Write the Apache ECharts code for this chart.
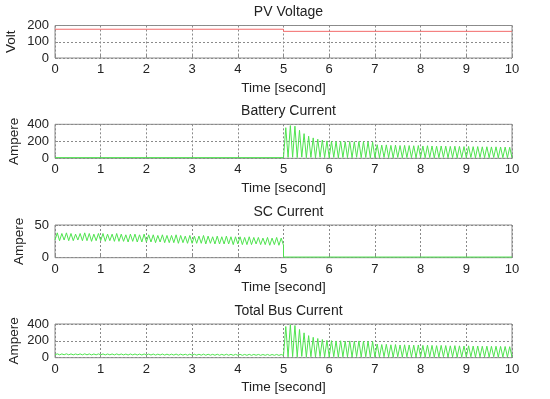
<!DOCTYPE html>
<html>
<head>
<meta charset="utf-8">
<script src="https://cdn.jsdelivr.net/npm/echarts@6/dist/echarts.min.js"></script>
<style>html,body{margin:0;padding:0;background:#fff}#c{width:550px;height:399px}</style>
</head>
<body>
<div id="c"></div>
<script>
// ---- Data ----
var titles = ['PV Voltage', 'Battery Current', 'SC Current', 'Total Bus Current'];
var yNames = ['Volt', 'Ampere', 'Ampere', 'Ampere'];
var xTicks = [0, 1, 2, 3, 4, 5, 6, 7, 8, 9, 10];
var yMax = [200, 400, 50, 400];
var yStep = [100, 200, 50, 200];

// PV voltage: step change at t = 5 s
var pvTime = [0, 5, 5, 10];
var pvVolt = [177, 177, 164, 164];

// Battery current: flat before 5 s, oscillating (10 Hz cycles) after 5 s
var batBefore = [8, 8];              // at t = 0 and t = 5
var batPeaks = [
  360, 385, 378, 330, 290, 260, 240, 225, 215, 205,
  200, 198, 200, 195, 198, 195, 198, 196, 195, 190,
  160, 155, 158, 152, 155, 150, 152, 150, 148, 150,
  145, 148, 145, 142, 145, 143, 140, 142, 140, 138,
  140, 137, 138, 135, 136, 134, 135, 133, 132, 130
];
var batTroughs = [
  6, 10, 12, 9, 14, 8, 11, 7, 12, 9,
  8, 11, 6, 10, 9, 7, 12, 8, 10, 6,
  9, 7, 11, 8, 6, 10, 7, 9, 8, 6,
  10, 7, 9, 6, 8, 11, 7, 9, 6, 8,
  7, 10, 6, 9, 8, 7, 10, 6, 8, 7
];

// SC current: oscillating before 5 s, ~0 after
var scPeaks = [
  38, 37, 38, 37, 36, 37, 38, 37, 36, 37,
  37, 36, 36, 37, 36, 35, 36, 36, 35, 36,
  35, 35, 34, 35, 34, 34, 35, 34, 33, 34,
  33, 33, 34, 33, 32, 33, 32, 33, 32, 32,
  32, 31, 32, 31, 31, 30, 31, 30, 31, 30
];
var scTroughs = [
  27, 26, 27, 26, 26, 27, 26, 26, 25, 26,
  26, 25, 26, 25, 25, 25, 24, 25, 24, 24,
  24, 24, 23, 24, 23, 23, 23, 22, 23, 22,
  22, 22, 22, 21, 22, 21, 21, 21, 21, 20,
  21, 20, 20, 20, 21, 20, 20, 19, 20, 19
];
var scAfter = [19, 1, 1];            // at t = 5 (end), 5 (drop), 10

// Total bus current
var busPeaks = [
  46, 45, 46, 45, 44, 45, 46, 45, 44, 45,
  45, 44, 44, 45, 44, 43, 44, 44, 43, 44,
  43, 43, 42, 43, 42, 42, 43, 42, 41, 42,
  41, 41, 42, 41, 40, 41, 40, 41, 40, 40,
  40, 39, 40, 39, 39, 38, 39, 38, 39, 38,
  370, 392, 382, 335, 295, 262, 242, 228, 216, 206,
  202, 199, 201, 196, 199, 196, 199, 197, 195, 192,
  162, 156, 159, 153, 156, 151, 153, 151, 149, 151,
  146, 149, 146, 143, 146, 144, 141, 143, 141, 139,
  141, 138, 139, 136, 137, 135, 136, 134, 133, 131
];
var busTroughs = [
  35, 34, 35, 34, 34, 35, 34, 34, 33, 34,
  34, 33, 34, 33, 33, 33, 32, 33, 32, 32,
  32, 32, 31, 32, 31, 31, 31, 30, 31, 30,
  30, 30, 30, 29, 30, 29, 29, 29, 29, 28,
  29, 28, 28, 28, 29, 28, 28, 27, 28, 27,
  27, 11, 13, 10, 15, 9, 12, 8, 13, 10,
  9, 12, 7, 11, 10, 8, 13, 9, 11, 7,
  10, 8, 12, 9, 7, 11, 8, 10, 9, 7,
  11, 8, 10, 7, 9, 12, 8, 10, 7, 9,
  8, 11, 7, 10, 9, 8, 11, 7, 9, 8
];

// ---- Build series points: each 0.1 s cycle = trough then peak ----
function cycles(t0, troughs, peaks) {
  var out = [];
  for (var k = 0; k < peaks.length; k++) {
    out.push([t0 + k * 0.1, troughs[k]]);
    out.push([t0 + k * 0.1 + 0.05, peaks[k]]);
  }
  return out;
}
var pvData = pvTime.map(function (t, i) { return [t, pvVolt[i]]; });
var batData = [[0, batBefore[0]], [5, batBefore[1]]].concat(cycles(5, batTroughs, batPeaks));
batData.push([10, batTroughs[batTroughs.length - 1]]);
var scData = cycles(0, scTroughs, scPeaks);
scData.push([5, scAfter[0]], [5, scAfter[1]], [10, scAfter[2]]);
var busData = cycles(0, busTroughs, busPeaks);
busData.push([10, busTroughs[busTroughs.length - 1]]);
var seriesData = [pvData, batData, scData, busData];
var colors = ['#f26b6b', '#4fe34f', '#4fe34f', '#4fe34f'];

// ---- Layout ----
var tops = [25.5, 124.3, 225, 324];
var heights = [32.5, 34, 32.7, 33.7];
var nameGaps = [37, 34, 29, 34];
var FONT = 'Liberation Sans, Arial, sans-serif';
var grid = [], xAxis = [], yAxis = [], series = [], title = [];
for (var i = 0; i < 4; i++) {
  grid.push({ left: 55, right: 38, top: tops[i], height: heights[i], show: true,
    outerBoundsMode: 'none', containLabel: false,
    borderColor: '#8c8c8c', borderWidth: 1, backgroundColor: '#fff' });
  title.push({ text: titles[i], left: 283.5, textAlign: 'center', top: tops[i] - 25,
    textStyle: { fontFamily: FONT, fontSize: 14, fontWeight: 'normal', color: '#222' } });
  xAxis.push({ gridIndex: i, type: 'value', min: xTicks[0], max: xTicks[xTicks.length - 1], interval: 1,
    name: 'Time [second]', nameLocation: 'middle', nameGap: 23, nameMoveOverlap: false,
    nameTextStyle: { fontFamily: FONT, fontSize: 13.5, color: '#222' },
    axisLine: { show: false },
    axisTick: { show: true, inside: true, length: 3, lineStyle: { color: '#8c8c8c' } },
    axisLabel: { fontFamily: FONT, fontSize: 13, color: '#222', margin: 5 },
    splitLine: { show: true, lineStyle: { color: '#8a8a8a', type: [2, 2], width: 1 } } });
  yAxis.push({ gridIndex: i, type: 'value', min: 0, max: yMax[i], interval: yStep[i],
    name: yNames[i], nameLocation: 'middle', nameGap: nameGaps[i], nameMoveOverlap: false,
    nameTextStyle: { fontFamily: FONT, fontSize: 13.5, color: '#222' },
    axisLine: { show: false },
    axisTick: { show: true, inside: true, length: 3, lineStyle: { color: '#8c8c8c' } },
    axisLabel: { fontFamily: FONT, fontSize: 13, color: '#222', margin: 6 },
    splitLine: { show: true, lineStyle: { color: '#8a8a8a', type: [2, 2], width: 1 } } });
  series.push({ type: 'line', xAxisIndex: i, yAxisIndex: i, data: seriesData[i],
    showSymbol: false, symbol: 'none', animation: false,
    lineStyle: { color: colors[i], width: 1 } });
}
var chart = echarts.init(document.getElementById('c'), null, { renderer: 'canvas' });
chart.setOption({ animation: false, backgroundColor: '#fff', title: title, grid: grid,
  xAxis: xAxis, yAxis: yAxis, series: series });
</script>
</body>
</html>
